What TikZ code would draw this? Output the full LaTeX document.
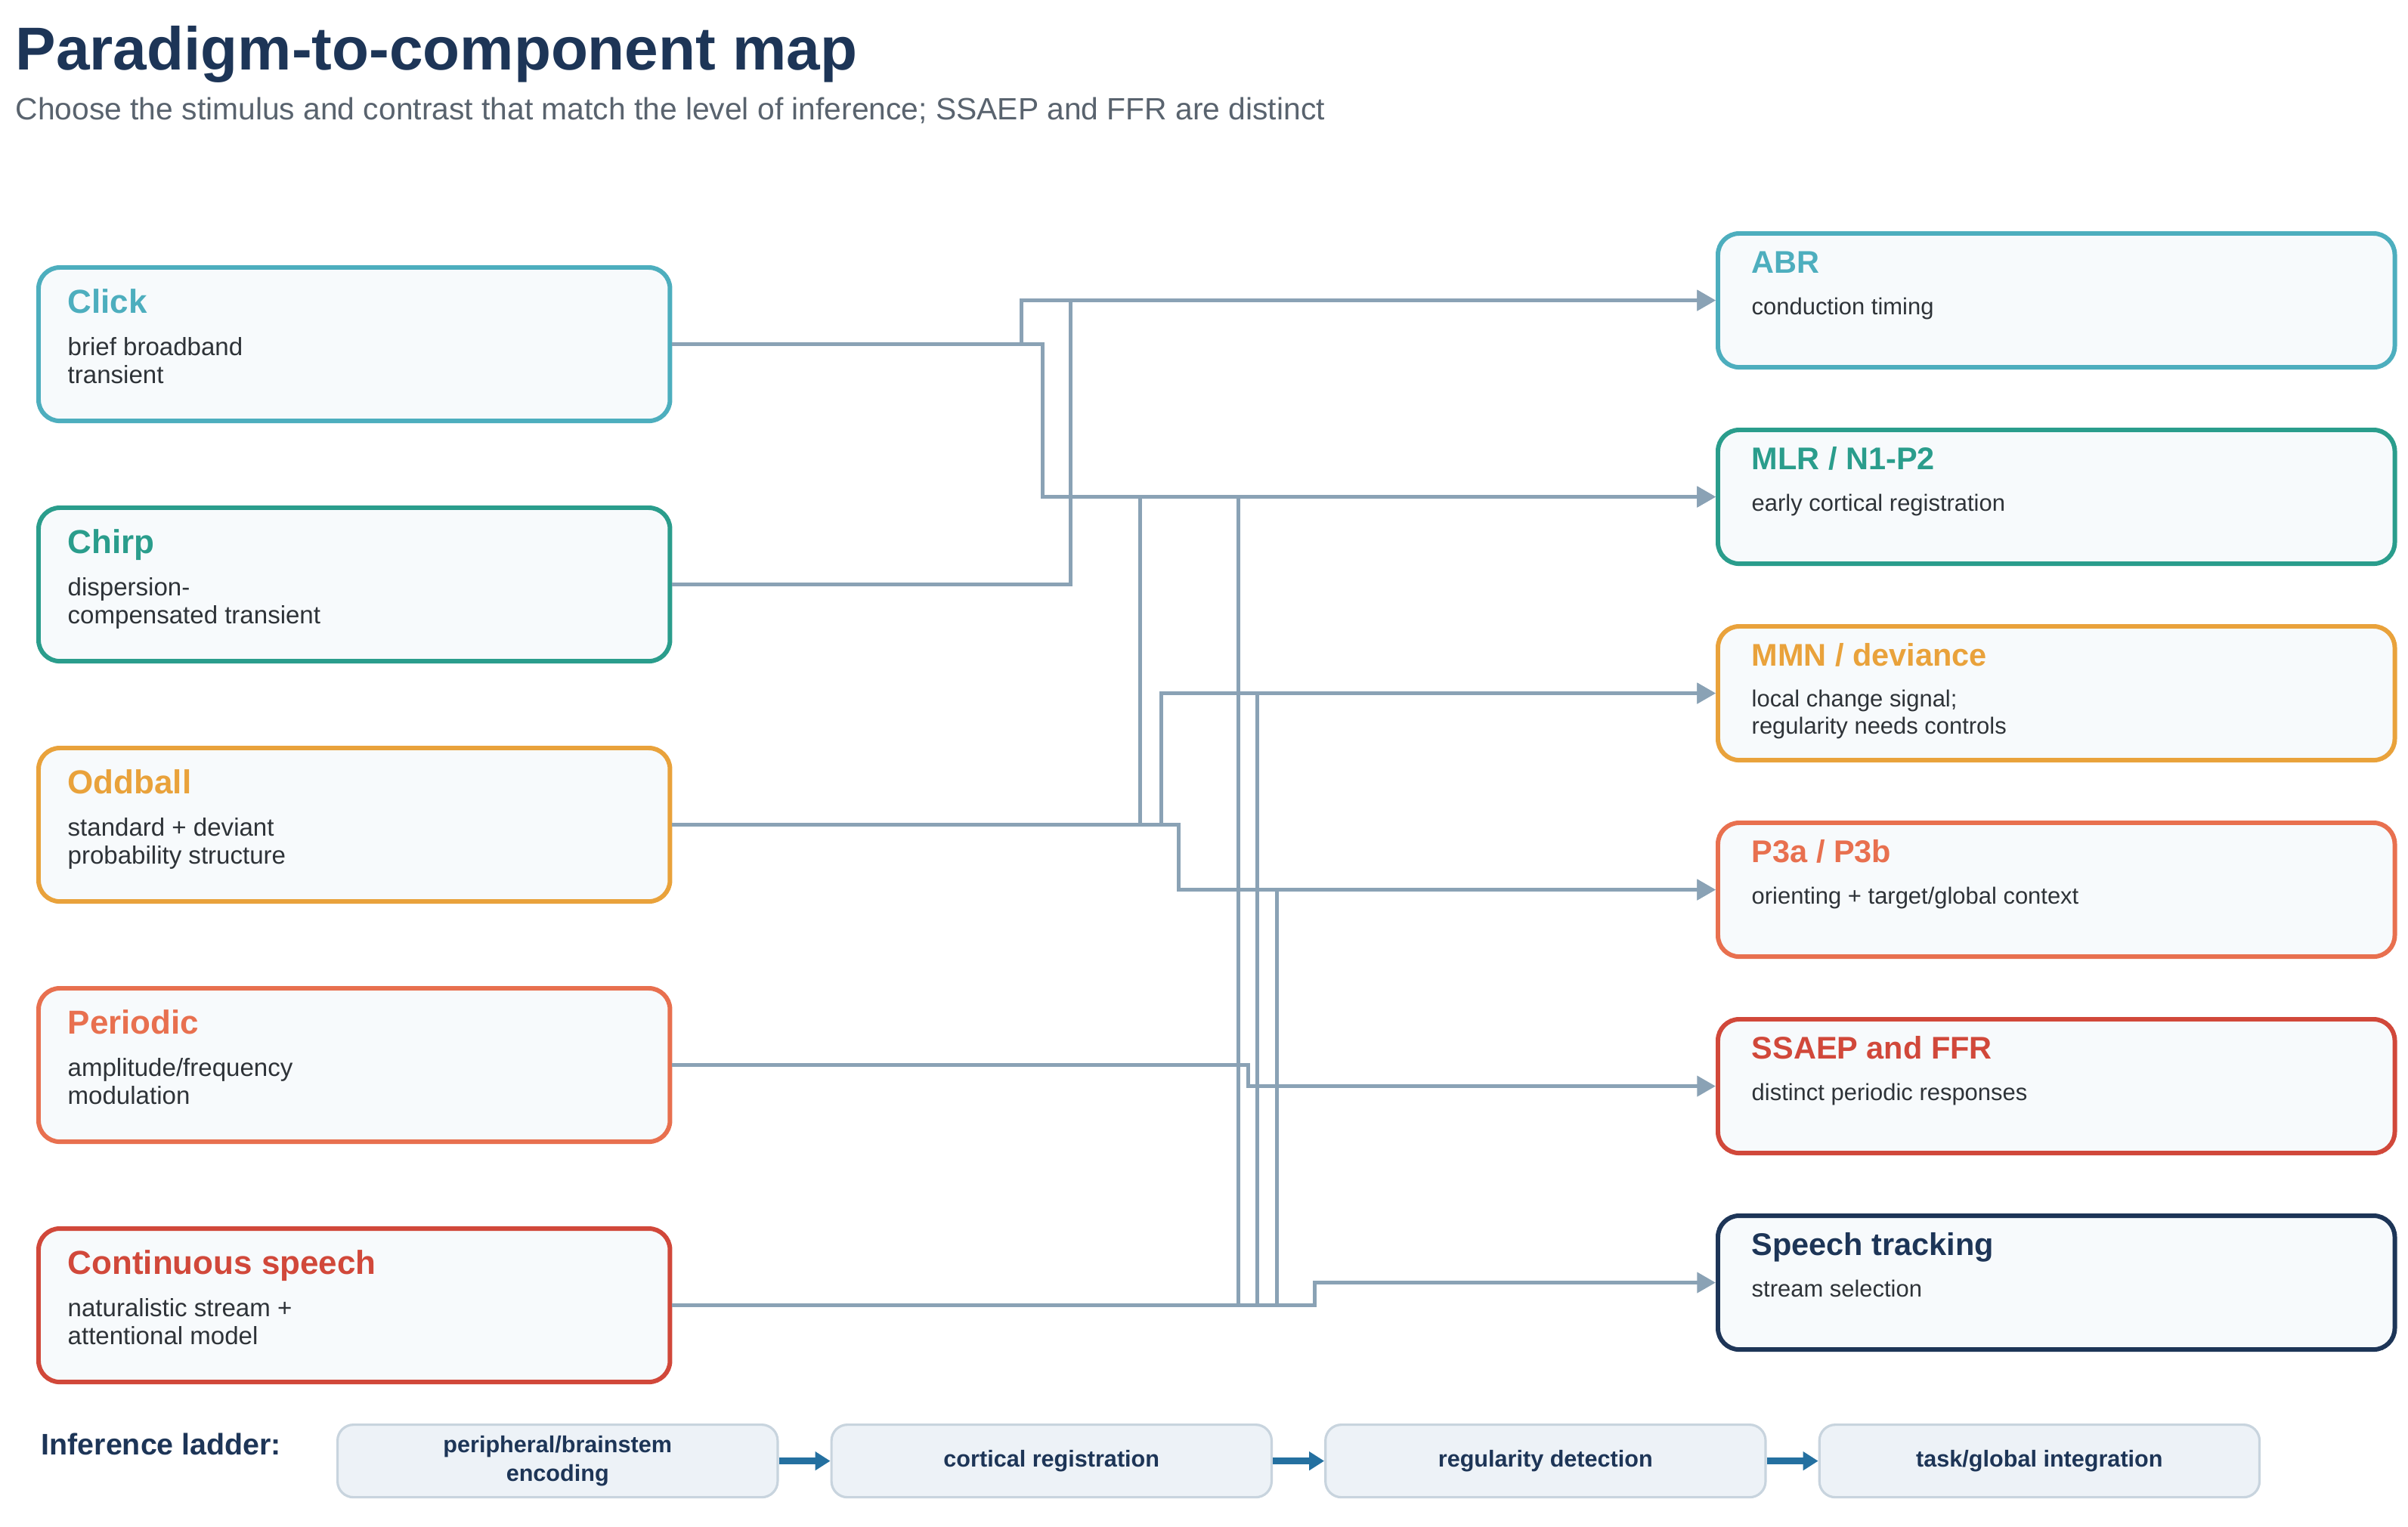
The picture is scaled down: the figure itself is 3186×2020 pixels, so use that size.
\documentclass[tikz,border=0pt]{standalone}
\usepackage{fontspec}
\setmainfont{Liberation Sans}
\usepackage{xcolor}
\usetikzlibrary{arrows.meta}
\usetikzlibrary{positioning}

\definecolor{cClick}{HTML}{4DAEBE}
\definecolor{cChirp}{HTML}{2A9D8C}
\definecolor{cOdd}{HTML}{E9A23B}
\definecolor{cPeri}{HTML}{E8704F}
\definecolor{cSpeech}{HTML}{D1483A}
\definecolor{cTrack}{HTML}{1D3557}
\definecolor{cLink}{HTML}{8AA2B5}
\definecolor{cInk}{HTML}{2E3338}
\definecolor{cGrey}{HTML}{59636E}
\definecolor{cFill}{HTML}{F7FAFC}
\definecolor{cRung}{HTML}{EDF2F7}
\definecolor{cRungLine}{HTML}{C8D4DE}
\definecolor{cRise}{HTML}{2470A0}

\begin{document}
\begin{tikzpicture}[x=0.01cm,y=-0.01cm,
  stim/.style={draw=#1,fill=cFill,line width=1.7pt,rounded corners=8pt,anchor=north west,
    minimum width=8.35cm,minimum height=2.03cm,inner sep=0},
  comp/.style={stim=#1,minimum width=8.95cm,minimum height=1.77cm},
  stimhead/.style={text=#1,font=\bfseries\fontsize{12.5}{15}\selectfont,anchor=base west,inner sep=0},
  comphead/.style={stimhead=#1,font=\bfseries\fontsize{11.8}{14}\selectfont},
  stimnote/.style={text=cInk,font=\fontsize{9.4}{10.5}\selectfont,anchor=base west,align=left,inner sep=0},
  compnote/.style={stimnote,font=\fontsize{8.8}{10}\selectfont},
  link/.style={draw=cLink,line width=1.6pt,-{Triangle[length=7pt,width=7.5pt]}},
  rung/.style={draw=cRungLine,fill=cRung,line width=0.9pt,rounded corners=6pt,
    minimum width=5.82cm,minimum height=0.96cm,align=center,text=cTrack,
    font=\bfseries\fontsize{8.7}{11}\selectfont},
  rise/.style={draw=cRise,line width=2.5pt,-{Triangle[length=5.7pt,width=6.8pt]}}]
  \fill[white] (0,0) rectangle (3186,2020);
  \useasboundingbox (0,0) rectangle (3186,2020);

  \node[anchor=base west,inner sep=0,text=cTrack,font=\bfseries\fontsize{22.8}{26}\selectfont] (title) at (20,92) {Paradigm-to-component map};
  \node[anchor=base west,inner sep=0,text=cGrey,font=\fontsize{11.6}{14}\selectfont] (subtitle) at (20,158) {Choose the stimulus and contrast that match the level of inference; SSAEP and FFR are distinct};

  \node[stim=cClick] (click) at (48,351) {};
  \node[stimhead=cClick] (click-t) at ([shift={(41,63)}]click.north west) {Click};
  \node[stimnote] (click-d) at ([shift={(41,156)}]click.north west) {brief broadband\\transient};
  \node[stim=cChirp] (chirp) at (48,669) {};
  \node[stimhead=cChirp] (chirp-t) at ([shift={(41,63)}]chirp.north west) {Chirp};
  \node[stimnote] (chirp-d) at ([shift={(41,156)}]chirp.north west) {dispersion-\\compensated transient};
  \node[stim=cOdd] (odd) at (48,987) {};
  \node[stimhead=cOdd] (odd-t) at ([shift={(41,63)}]odd.north west) {Oddball};
  \node[stimnote] (odd-d) at ([shift={(41,156)}]odd.north west) {standard + deviant\\probability structure};
  \node[stim=cPeri] (peri) at (48,1305) {};
  \node[stimhead=cPeri] (peri-t) at ([shift={(41,63)}]peri.north west) {Periodic};
  \node[stimnote] (peri-d) at ([shift={(41,156)}]peri.north west) {amplitude/frequency\\modulation};
  \node[stim=cSpeech] (speech) at (48,1623) {};
  \node[stimhead=cSpeech] (speech-t) at ([shift={(41,63)}]speech.north west) {Continuous speech};
  \node[stimnote] (speech-d) at ([shift={(41,156)}]speech.north west) {naturalistic stream +\\attentional model};

  \node[comp=cClick] (abr) at (2270,306) {};
  \node[comphead=cClick] (abr-t) at ([shift={(47,55)}]abr.north west) {ABR};
  \node[compnote] (abr-d) at ([shift={(47,110)}]abr.north west) {conduction timing};
  \node[comp=cChirp] (mlr) at (2270,566) {};
  \node[comphead=cChirp] (mlr-t) at ([shift={(47,55)}]mlr.north west) {MLR / N1-P2};
  \node[compnote] (mlr-d) at ([shift={(47,110)}]mlr.north west) {early cortical registration};
  \node[comp=cOdd] (mmn) at (2270,826) {};
  \node[comphead=cOdd] (mmn-t) at ([shift={(47,55)}]mmn.north west) {MMN / deviance};
  \node[compnote] (mmn-d) at ([shift={(47,145)}]mmn.north west) {local change signal;\\regularity needs controls};
  \node[comp=cPeri] (p3) at (2270,1086) {};
  \node[comphead=cPeri] (p3-t) at ([shift={(47,55)}]p3.north west) {P3a / P3b};
  \node[compnote] (p3-d) at ([shift={(47,110)}]p3.north west) {orienting + target/global context};
  \node[comp=cSpeech] (ssaep) at (2270,1346) {};
  \node[comphead=cSpeech] (ssaep-t) at ([shift={(47,55)}]ssaep.north west) {SSAEP and FFR};
  \node[compnote] (ssaep-d) at ([shift={(47,110)}]ssaep.north west) {distinct periodic responses};
  \node[comp=cTrack] (track) at (2270,1606) {};
  \node[comphead=cTrack] (track-t) at ([shift={(47,55)}]track.north west) {Speech tracking};
  \node[compnote] (track-d) at ([shift={(47,110)}]track.north west) {stream selection};

  \draw[link] (click.east) -- ++(462,0) |- (abr.west);
  \draw[link] (click.east) -- ++(490,0) |- (mlr.west);
  \draw[link] (chirp.east) -- ++(527,0) |- (abr.west);
  \draw[link] (odd.east) -- ++(619,0) |- (mlr.west);
  \draw[link] (odd.east) -- ++(647,0) |- (mmn.west);
  \draw[link] (odd.east) -- ++(670,0) |- (p3.west);
  \draw[link] (peri.east) -- ++(762,0) |- (ssaep.west);
  \draw[link] (speech.east) -- ++(749,0) |- (mlr.west);
  \draw[link] (speech.east) -- ++(774,0) |- (mmn.west);
  \draw[link] (speech.east) -- ++(800,0) |- (p3.west);
  \draw[link] (speech.east) -- ++(850,0) |- (track.west);

  \node[anchor=base west,inner sep=0,text=cTrack,font=\bfseries\fontsize{11.2}{13}\selectfont] (ladder) at (54,1925) {Inference ladder:};
  \node[rung,anchor=north west] (r1) at (445,1884) {peripheral/brainstem\\encoding};
  \node[rung,right=0.68cm of r1] (r2) {cortical registration};
  \node[rung,right=0.68cm of r2] (r3) {regularity detection};
  \node[rung,right=0.68cm of r3] (r4) {task/global integration};
  \draw[rise] (r1) -- (r2);
  \draw[rise] (r2) -- (r3);
  \draw[rise] (r3) -- (r4);
\end{tikzpicture}
\end{document}
